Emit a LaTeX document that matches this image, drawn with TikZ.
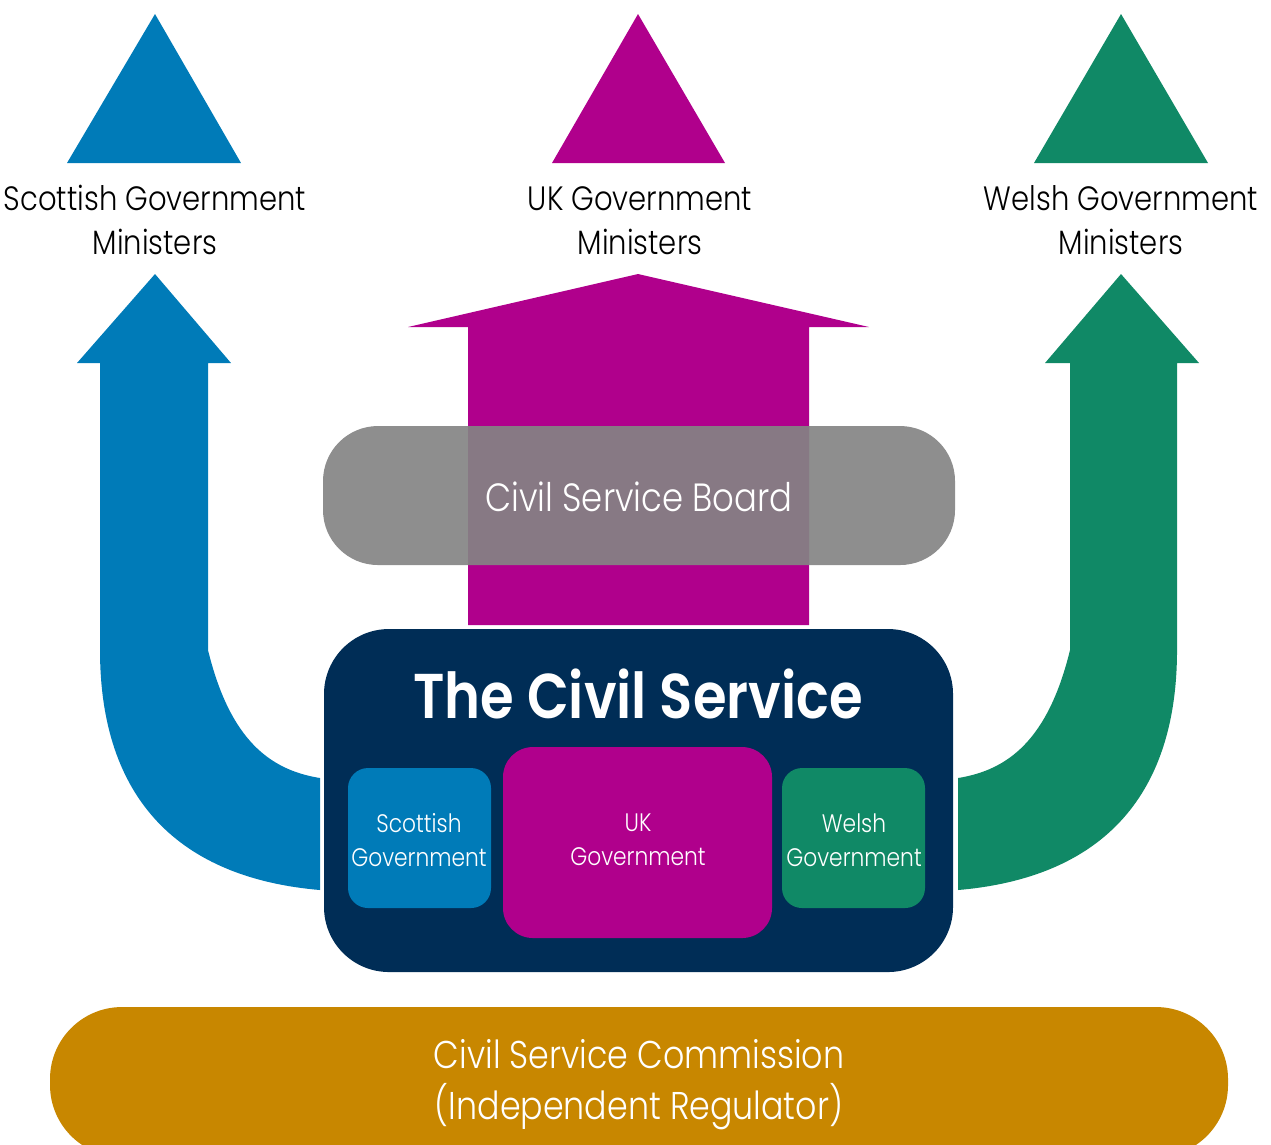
\documentclass[tikz,border=0pt]{standalone}
\usepackage{fontspec}
\setmainfont{Poppins Light}[FakeStretch=0.86, BoldFont={Poppins SemiBold}]
\usetikzlibrary{positioning}

\definecolor{scotblue}{RGB}{0,123,184}
\definecolor{ukmagenta}{RGB}{176,0,140}
\definecolor{welshgreen}{RGB}{16,137,102}
\definecolor{csnavy}{RGB}{0,45,86}
\definecolor{boardgrey}{RGB}{132,132,132}
\definecolor{csgold}{RGB}{200,135,0}

\tikzset{
  minister/.style={align=center, font=\fontsize{9.6}{12.5}\selectfont, text=black},
  govbox/.style={rounded corners=0.2cm, text=white, align=center,
                 font=\fontsize{7.2}{9.6}\selectfont},
  bodybox/.style={rounded corners=0.65cm, fill=csnavy},
  pill/.style={text=white, align=center}
}

\begin{document}
\begin{tikzpicture}[x=0.01cm,y=-0.01cm]
  \useasboundingbox (0,0) rectangle (1271,1144);

  % ministers: triangles and labels
  \fill[scotblue]   (155,14)  -- (241,163)  -- (67,163)   -- cycle;
  \fill[ukmagenta]  (638,14)  -- (725,163)  -- (552,163)  -- cycle;
  \fill[welshgreen] (1121,14) -- (1208,163) -- (1034,163) -- cycle;
  \node[minister] (scotmin)  at (155,220)  {Scottish Government\\Ministers};
  \node[minister] (ukmin)    at (640,221)  {UK Government\\Ministers};
  \node[minister] (welshmin) at (1121,220) {Welsh Government\\Ministers};

  % curved arrows from the devolved governments
  \fill[scotblue] (320,890) .. controls (180,878) and (100,800) .. (100,650)
    -- (100,363) -- (77,363) -- (155,274) -- (231,363) -- (208,363) -- (208,650)
    .. controls (230,740) and (270,770) .. (320,778) -- cycle;
  \fill[welshgreen] (958,890) .. controls (1098,878) and (1177,800) .. (1177,650)
    -- (1177,363) -- (1199,363) -- (1121,274) -- (1045,363) -- (1070,363) -- (1070,650)
    .. controls (1048,740) and (1008,770) .. (958,778) -- cycle;

  % straight arrow from the UK government
  \fill[ukmagenta] (468,625) -- (468,327) -- (408,327) -- (638,274)
    -- (869,327) -- (809,327) -- (809,625) -- cycle;

  % board sits over the UK arrow
  \path[fill=boardgrey, fill opacity=0.92, rounded corners=0.55cm]
    (323,426) rectangle (955,565);
  \node[pill, font=\fontsize{11.2}{13}\selectfont] (board) at (639,497) {Civil Service Board};

  % the civil service and its three parts
  \path[bodybox] (324,629) rectangle (953,972);
  \node[text=white, font=\bfseries\fontsize{18}{20}\selectfont] (cs) at (638,694) {The Civil Service};
  \path[fill=scotblue, govbox]   (348,768) rectangle (491,908);
  \path[fill=ukmagenta, govbox, rounded corners=0.3cm] (503,747) rectangle (772,938);
  \path[fill=welshgreen, govbox] (782,768) rectangle (925,908);
  \node[govbox] (scotgov)  at (419,840) {Scottish\\Government};
  \node[govbox] (ukgov)    at (638,840) {UK\\Government};
  \node[govbox] (welshgov) at (854,840) {Welsh\\Government};

  % regulator along the bottom
  \begin{scope}
    \clip (0,0) rectangle (1271,1144);
    \path[fill=csgold, rounded corners=0.72cm] (50,1007) rectangle (1228,1157);
  \end{scope}
  \node[pill, font=\fontsize{11}{14.5}\selectfont] (csc) at (639,1085)
    {Civil Service Commission\\(Independent Regulator)};
\end{tikzpicture}
\end{document}
